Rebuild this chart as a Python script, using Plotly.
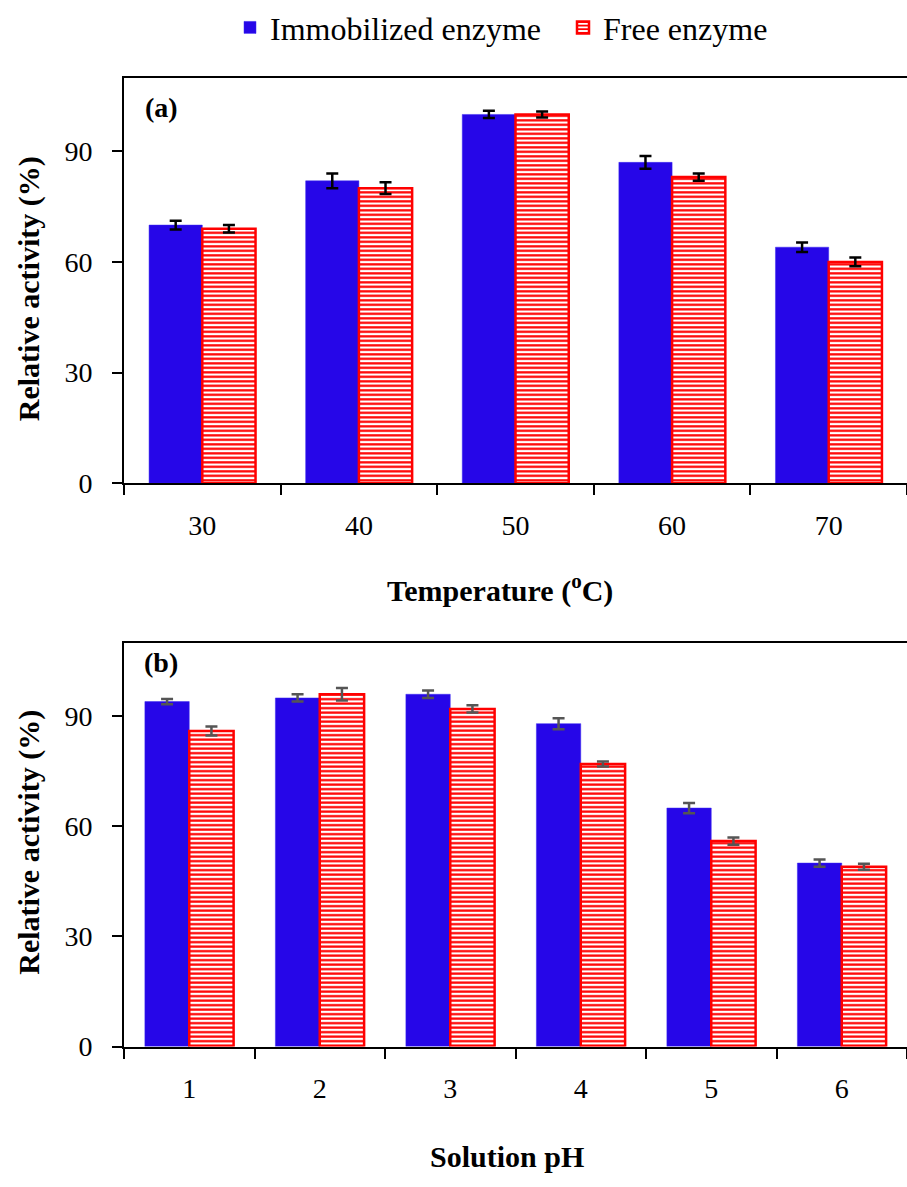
import plotly.graph_objects as go

# Panel (a): effect of temperature
temperatures = ["30", "40", "50", "60", "70"]
temp_immobilized = [70, 82, 100, 87, 64]
temp_immobilized_err = [1.2, 2.0, 1.0, 1.7, 1.3]
temp_free = [69, 80, 100, 83, 60]
temp_free_err = [1.0, 1.6, 0.8, 1.0, 1.2]

# Panel (b): effect of solution pH
ph_values = ["1", "2", "3", "4", "5", "6"]
ph_immobilized = [94, 95, 96, 88, 65, 50]
ph_immobilized_err = [0.7, 1.0, 1.0, 1.5, 1.4, 1.0]
ph_free = [86, 96, 92, 77, 56, 49]
ph_free_err = [1.2, 1.7, 1.0, 0.7, 1.0, 0.8]

W, H = 907, 1187
FONT = "Times New Roman"
BLUE = "#2606E8"
RED = "#FF0000"

def immob_trace(x, y, err, xa, ya, ecolor, show):
    return go.Bar(
        x=x, y=y, name="Immobilized enzyme", xaxis=xa, yaxis=ya,
        marker=dict(color=BLUE, line=dict(color="#3A2AF0", width=0.5)),
        error_y=dict(type="data", array=err, color=ecolor, thickness=2.5, width=6),
        showlegend=show, legendgroup="imm",
    )

def free_trace(x, y, err, xa, ya, ecolor, show):
    return go.Bar(
        x=x, y=y, name="Free enzyme", xaxis=xa, yaxis=ya,
        marker=dict(
            color="white",
            line=dict(color=RED, width=2.5),
            pattern=dict(shape="-", fgcolor=RED, bgcolor="white",
                         size=4.5, solidity=0.5, fillmode="replace"),
        ),
        error_y=dict(type="data", array=err, color=ecolor, thickness=2.5, width=6),
        showlegend=show, legendgroup="free",
    )

fig = go.Figure()
fig.add_trace(immob_trace(temperatures, temp_immobilized, temp_immobilized_err, "x", "y", "black", True))
fig.add_trace(free_trace(temperatures, temp_free, temp_free_err, "x", "y", "black", True))
fig.add_trace(immob_trace(ph_values, ph_immobilized, ph_immobilized_err, "x2", "y2", "#555555", False))
fig.add_trace(free_trace(ph_values, ph_free, ph_free_err, "x2", "y2", "#555555", False))

x_left = 124 / W
dom_a = [(H - 485) / H, (H - 71) / H]
dom_b = [(H - 1060) / H, (H - 648) / H]

xaxis_common = dict(
    type="category", showline=True, linecolor="black", linewidth=2, mirror=True,
    ticks="outside", ticklen=10, tickwidth=2, tickcolor="black",
    tickson="boundaries", showgrid=False, zeroline=False,
    tickfont=dict(family=FONT, size=28, color="black"),
    ticklabelstandoff=16, domain=[x_left, 1],
)
yaxis_common = dict(
    range=[0, 110], tick0=0, dtick=30, showline=True, linecolor="black", linewidth=2,
    ticks="outside", ticklen=10, tickwidth=2, tickcolor="black",
    showgrid=False, zeroline=False,
    tickfont=dict(family=FONT, size=28, color="black"),
    ticklabelstandoff=14,
)

fig.update_layout(
    width=W, height=H,
    margin=dict(l=0, r=0, t=0, b=0),
    paper_bgcolor="white", plot_bgcolor="white",
    font=dict(family=FONT, color="black"),
    barmode="group", bargap=0.32, bargroupgap=0,
    xaxis=dict(**xaxis_common, anchor="y"),
    yaxis=dict(**yaxis_common, domain=dom_a, anchor="x"),
    xaxis2=dict(**xaxis_common, anchor="y2"),
    yaxis2=dict(**yaxis_common, domain=dom_b, anchor="x2"),
    legend=dict(
        orientation="h", x=563 / W, xanchor="center", y=1 - 20 / H, yanchor="middle",
        font=dict(family=FONT, size=32, color="black"),
        itemwidth=30, entrywidth=288, entrywidthmode="pixels",
        traceorder="normal", bgcolor="rgba(0,0,0,0)",
    ),
    showlegend=True,
)

def label(text, x, y, angle=0, size=30):
    fig.add_annotation(
        text=text, x=x / W, y=1 - y / H, xref="paper", yref="paper",
        showarrow=False, textangle=angle, xanchor="center", yanchor="middle",
        font=dict(family=FONT, size=size, color="black"),
    )

label("<b>(a)</b>", 161, 102, size=28)
label("<b>(b)</b>", 161, 668, size=28)
label("<b>Relative activity (%)</b>", 29, 287, angle=-90)
label("<b>Relative activity (%)</b>", 29, 852, angle=-90)
label("<b>Temperature (<sup>o</sup>C)</b>", 500, 592)
label("<b>Solution pH</b>", 507, 1172)

fig.write_html("out.html")
